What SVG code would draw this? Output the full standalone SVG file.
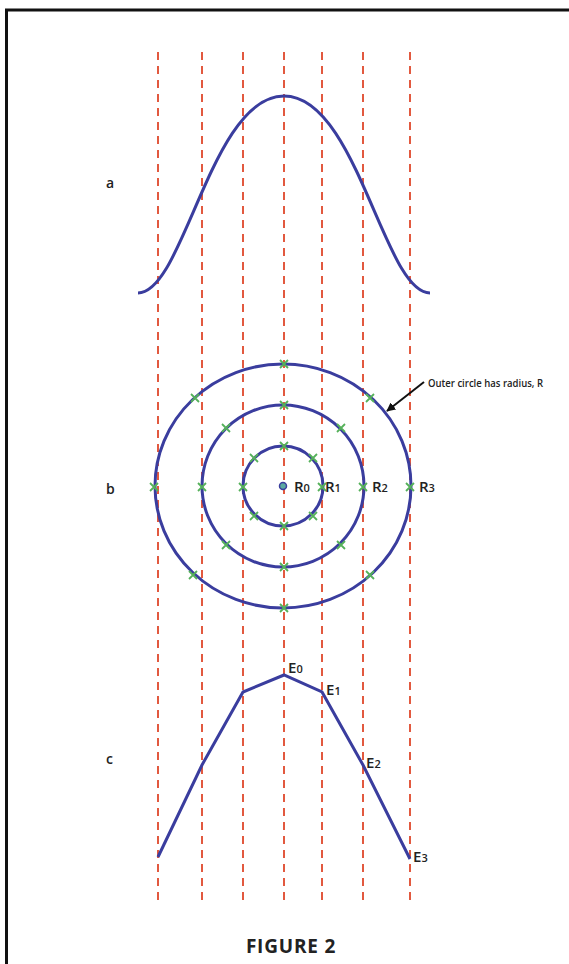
<svg xmlns="http://www.w3.org/2000/svg" width="569" height="964" viewBox="0 0 569 964">
  <style>
    .guide { stroke: #e2593f; stroke-width: 2; stroke-dasharray: 8 6; fill: none; }
    .blue { stroke: #3a3d9e; stroke-width: 3; fill: none; stroke-linejoin: miter; }
    .xm { stroke: #55b15a; stroke-width: 1.8; fill: none; }
    .lbl { font-family: "Open Sans", "Liberation Sans", sans-serif; fill: #222; }
    .panel { font-size: 14px; font-weight: 600; }
    .r { font-size: 15px; font-weight: 600; }
    .sub { font-size: 11px; }
    .frame { stroke: #111; stroke-width: 3; fill: none; }
  </style>
  <defs>
    <path id="x" d="M-4,-4 L4,4 M-4,4 L4,-4" class="xm"/>
    <marker id="ah" viewBox="0 0 10 10" refX="9" refY="5" markerWidth="9" markerHeight="9" markerUnits="userSpaceOnUse" orient="auto">
      <path d="M0,0 L10,5 L0,10 z" fill="#111"/>
    </marker>
  </defs>

  <rect x="0" y="0" width="569" height="964" fill="#ffffff"/>
  <g id="frame">
    <path class="frame" d="M6.5,964 L6.5,10 L569,10"/>
  </g>

  <g id="guides">
    <line class="guide" x1="158" y1="52" x2="158" y2="906"/>
    <line class="guide" x1="202" y1="52" x2="202" y2="906"/>
    <line class="guide" x1="243" y1="52" x2="243" y2="906"/>
    <line class="guide" x1="284" y1="52" x2="284" y2="906"/>
    <line class="guide" x1="322" y1="52" x2="322" y2="906"/>
    <line class="guide" x1="363" y1="52" x2="363" y2="906"/>
    <line class="guide" x1="410" y1="52" x2="410" y2="906"/>
  </g>

  <g id="panel-a">
    <text class="lbl panel" x="106" y="188">a</text>
    <path class="blue" d="M138,293 C184,293 211,96 284,96 C357,96 384,293 430,293"/>
  </g>

  <g id="panel-b">
    <text class="lbl panel" x="106" y="494">b</text>
    <ellipse class="blue" cx="283" cy="486" rx="128" ry="122"/>
    <circle class="blue" cx="283" cy="486" r="81"/>
    <circle class="blue" cx="283" cy="486" r="40"/>
    <circle cx="283" cy="486" r="3.5" fill="#5aa9a0" stroke="#3a3d9e" stroke-width="1.5"/>
    <use href="#x" x="284" y="364"/>
    <use href="#x" x="195" y="398"/>
    <use href="#x" x="154" y="487"/>
    <use href="#x" x="193" y="575"/>
    <use href="#x" x="284" y="608"/>
    <use href="#x" x="370" y="575"/>
    <use href="#x" x="370" y="398"/>
    <use href="#x" x="410" y="487"/>
    <use href="#x" x="284" y="405"/>
    <use href="#x" x="226" y="428"/>
    <use href="#x" x="202" y="487"/>
    <use href="#x" x="226" y="545"/>
    <use href="#x" x="284" y="567"/>
    <use href="#x" x="341" y="545"/>
    <use href="#x" x="341" y="428"/>
    <use href="#x" x="363" y="487"/>
    <use href="#x" x="284" y="446"/>
    <use href="#x" x="254" y="458"/>
    <use href="#x" x="243" y="487"/>
    <use href="#x" x="254" y="516"/>
    <use href="#x" x="284" y="526"/>
    <use href="#x" x="313" y="516"/>
    <use href="#x" x="313" y="458"/>
    <use href="#x" x="322" y="487"/>
    <text class="lbl r" x="294" y="492">R<tspan class="sub">0</tspan></text>
    <text class="lbl r" x="325" y="492">R<tspan class="sub">1</tspan></text>
    <text class="lbl r" x="372" y="492">R<tspan class="sub">2</tspan></text>
    <text class="lbl r" x="419" y="492">R<tspan class="sub">3</tspan></text>
  </g>

  <g id="annotation">
    <text class="lbl" x="428" y="387" font-size="10" font-weight="600" textLength="115" lengthAdjust="spacingAndGlyphs">Outer circle has radius, R</text>
  </g>

  <g id="connectors">
    <line x1="424" y1="382" x2="387" y2="411" stroke="#111" stroke-width="2" marker-end="url(#ah)"/>
  </g>

  <g id="panel-c">
    <text class="lbl panel" x="106" y="764">c</text>
    <polyline class="blue" points="158,857 202,765 243,692 284,675 322,692 363,765 410,859"/>
    <text class="lbl r" x="288" y="673" font-size="14">E<tspan class="sub">0</tspan></text>
    <text class="lbl r" x="326" y="695" font-size="14">E<tspan class="sub">1</tspan></text>
    <text class="lbl r" x="366" y="768" font-size="14">E<tspan class="sub">2</tspan></text>
    <text class="lbl r" x="413" y="862" font-size="14">E<tspan class="sub">3</tspan></text>
  </g>

  <g id="caption">
    <text class="lbl" x="291" y="953" font-size="19" font-weight="bold" text-anchor="middle" letter-spacing="0.8">FIGURE 2</text>
  </g>
</svg>
